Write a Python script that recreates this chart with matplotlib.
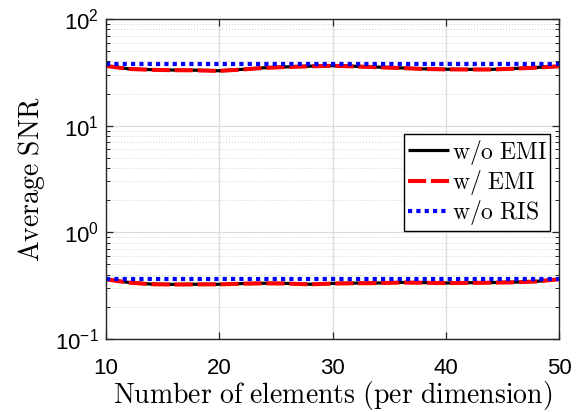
import math
import matplotlib
matplotlib.use("Agg")
import matplotlib.pyplot as plt
from matplotlib.font_manager import FontProperties
from matplotlib.ticker import LogLocator, FuncFormatter, NullFormatter, MultipleLocator

plt.rcParams['mathtext.fontset'] = 'custom'
plt.rcParams['mathtext.rm'] = 'Liberation Sans'
plt.rcParams['mathtext.it'] = 'Liberation Sans'

x = [10, 12, 14, 16, 18, 20, 22, 24, 26, 28, 30, 32, 34, 36, 38, 40, 42, 44, 46, 48, 50]

upper_wo_emi = [36.4, 34.1, 33.5, 33.2, 33.1, 32.7, 33.7, 34.9, 35.6, 36.1, 36.5, 36.0, 35.4, 34.8, 34.1, 33.8, 33.7, 33.7, 34.3, 35.1, 36.1]
upper_w_emi = [36.3, 34.0, 33.4, 33.1, 33.0, 32.6, 33.6, 34.8, 35.5, 36.0, 36.4, 35.9, 35.3, 34.7, 34.0, 33.7, 33.6, 33.6, 34.2, 35.0, 36.0]
upper_wo_ris = [37.9] * len(x)

lower_wo_emi = [0.363, 0.339, 0.327, 0.325, 0.326, 0.326, 0.331, 0.333, 0.332, 0.326, 0.332, 0.334, 0.335, 0.339, 0.338, 0.335, 0.337, 0.338, 0.341, 0.347, 0.364]
lower_w_emi = [0.362, 0.338, 0.326, 0.324, 0.325, 0.325, 0.330, 0.332, 0.331, 0.325, 0.331, 0.333, 0.334, 0.338, 0.337, 0.334, 0.336, 0.337, 0.340, 0.346, 0.363]
lower_wo_ris = [0.363] * len(x)

labels = ['w/o EMI', 'w/ EMI', 'w/o RIS']
xlabel = 'Number of elements (per dimension)'
ylabel = 'Average SNR'


def tex(s):
    return r'$\mathrm{' + s.replace(' ', r'\ ') + '}$'


fig = plt.figure(figsize=(5.87, 4.12), dpi=100)
ax = fig.add_axes([0.1806, 0.1772, 0.9523 - 0.1806, 0.9539 - 0.1772])

black_kw = dict(color='black', lw=2.3, solid_capstyle='butt')
red_kw = dict(color='red', lw=2.9, linestyle=(0, (4.5, 1.2)))
blue_kw = dict(color='blue', lw=3.0, linestyle=(0, (1, 1)))

l1, = ax.plot(x, upper_wo_emi, **black_kw)
l2, = ax.plot(x, upper_w_emi, **red_kw)
l3, = ax.plot(x, upper_wo_ris, **blue_kw)
ax.plot(x, lower_wo_emi, **black_kw)
ax.plot(x, lower_w_emi, **red_kw)
ax.plot(x, lower_wo_ris, **blue_kw)

ax.set_yscale('log')
ax.set_xlim(10, 50)
ax.set_ylim(0.1, 100)
ax.xaxis.set_major_locator(MultipleLocator(10))
ax.yaxis.set_major_locator(LogLocator(base=10, numticks=10))
ax.yaxis.set_minor_locator(LogLocator(base=10, subs=range(2, 10), numticks=20))
ax.yaxis.set_minor_formatter(NullFormatter())


def fmt(v, pos):
    e = int(round(math.log10(v)))
    return r'$10^{%d}$' % e


ax.yaxis.set_major_formatter(FuncFormatter(fmt))

ax.grid(True, which='major', color='#dcdcdc', lw=0.9, ls='-')
ax.grid(True, which='minor', axis='y', color='#d0d0d0', lw=0.7, ls=(0, (1, 2)))
ax.set_axisbelow(True)

ax.tick_params(which='both', direction='in', top=True, right=True, color='#262626')
ax.tick_params(which='major', length=5, width=0.9, labelsize=16)
ax.tick_params(which='minor', length=3, width=0.7)
ax.tick_params(axis='x', which='major', pad=14)
ax.tick_params(axis='y', which='major', pad=5)
for lab in ax.get_xticklabels() + ax.get_yticklabels():
    lab.set_family('Liberation Sans')
for s in ax.spines.values():
    s.set_color('#262626')
    s.set_linewidth(1.0)

cm20 = FontProperties(size=20, math_fontfamily='cm')
ax.set_xlabel(tex(xlabel), fontproperties=cm20, labelpad=0)
ax.set_ylabel(tex(ylabel), fontproperties=cm20, labelpad=6)

leg = ax.legend([l1, l2, l3], [tex(s) for s in labels], loc='upper left',
                bbox_to_anchor=((404 - 106) / 453, 1 - (134 - 19) / 320),
                prop=FontProperties(size=17, math_fontfamily='cm'), frameon=True, fancybox=False,
                edgecolor='black', framealpha=1, handlelength=1.75, handletextpad=0.12,
                borderpad=0.15, labelspacing=0.06, borderaxespad=0)
leg.get_frame().set_linewidth(1.0)

fig.savefig('out.png', dpi=100)
